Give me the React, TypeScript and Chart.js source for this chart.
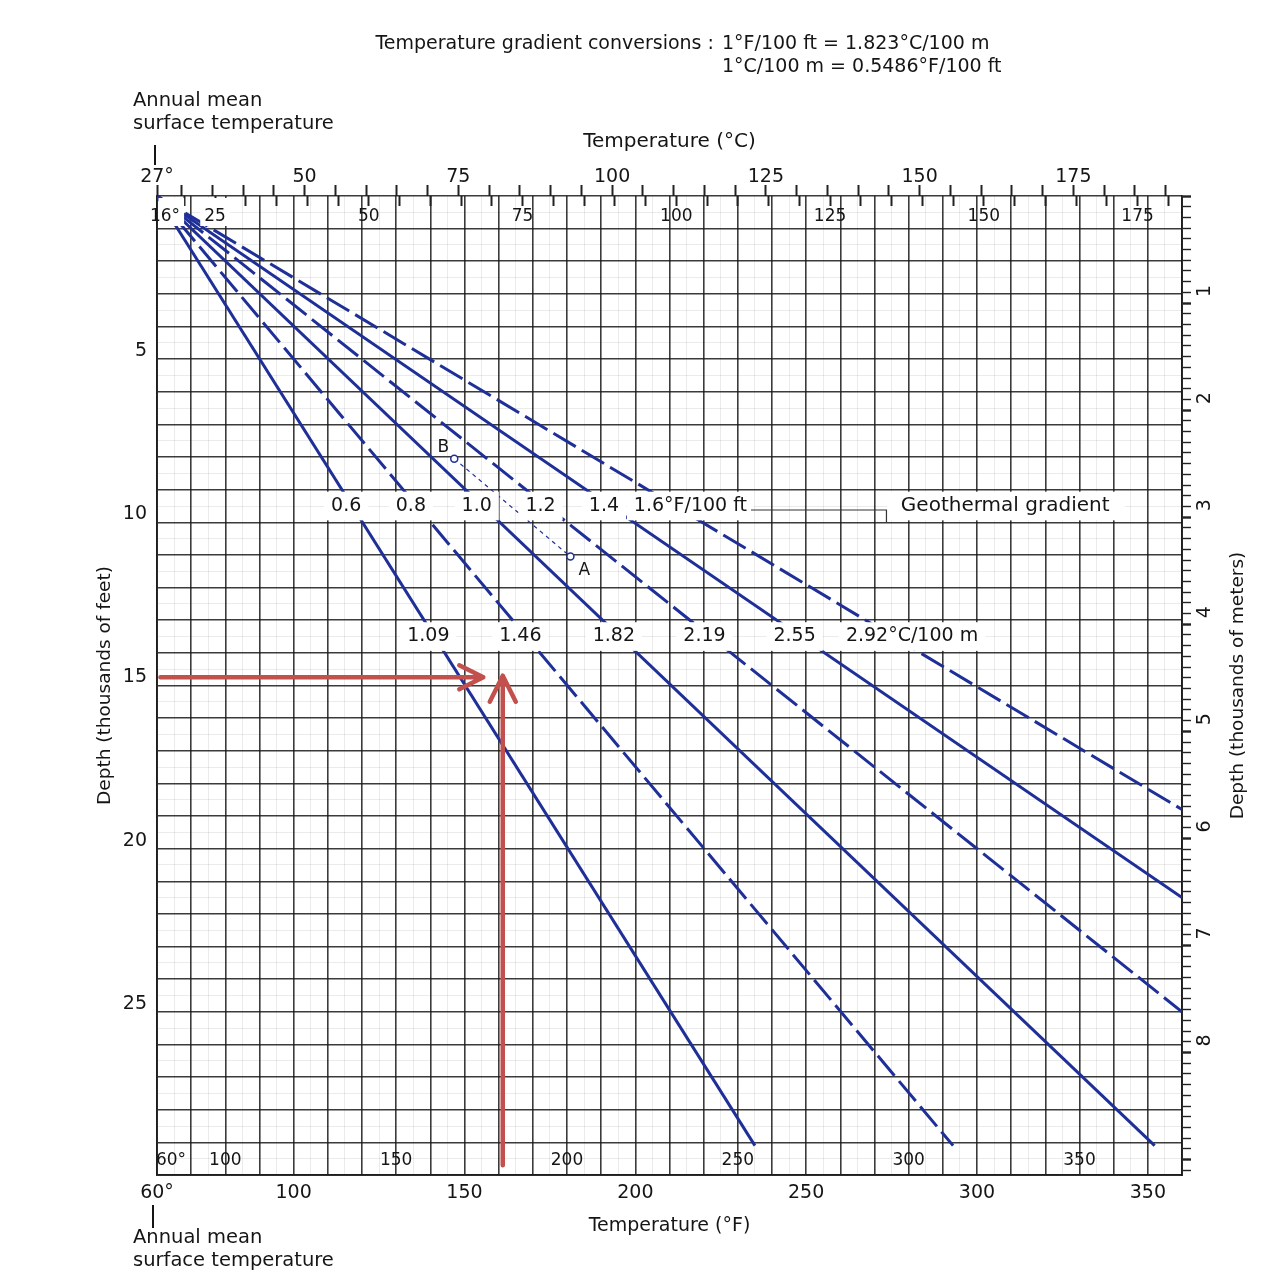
import React, { useEffect, useRef } from 'react';
import { Chart, registerables } from 'chart.js';

Chart.register(...registerables);

const FONT = '"DejaVu Sans", "Liberation Sans", sans-serif';
const BLUE = '#1f2f98';
const GRID_DARK = 'rgba(25,25,25,0.85)';
const GRID_LIGHT = 'rgba(0,0,0,0.08)';
const RED = '#c2504c';
const TEXT = '#151515';

// ---- Geothermal gradient lines (°F/100 ft) ----
const gradientLabelsF = ['0.6', '0.8', '1.0', '1.2', '1.4', '1.6'];
const gradientLabelsC = ['1.09', '1.46', '1.82', '2.19', '2.55', '2.92'];
const surfaceTempF = 60;
const lineEndTempF = [235, 293, 352, 360, 360, 360];
const lineEndDepth = [29.1, 29.1, 29.1, 25.0, 21.5, 18.8];
const lineDashed = [false, true, false, true, false, true];

// ---- Points B and A ----
const pointLabels = ['B', 'A'];
const pointTemps = [147, 181];
const pointDepths = [8.05, 11.05];

// ---- Axis ticks ----
const bottomTickValues = [60, 100, 150, 200, 250, 300, 350];
const bottomTickLabels = ['60°', '100', '150', '200', '250', '300', '350'];
const innerBottomValues = [60, 80, 130, 180, 230, 280, 330];
const innerBottomLabels = ['60°', '100', '150', '200', '250', '300', '350'];
const topOuterValues = [26, 50, 75, 100, 125, 150, 175];
const topOuterLabels = ['27°', '50', '75', '100', '125', '150', '175'];
const topInnerValues = [15.6, 25, 50, 75, 100, 125, 150, 175];
const topInnerLabels = ['16°', '25', '50', '75', '100', '125', '150', '175'];
const depthFtTicks = [5, 10, 15, 20, 25];
const depthMTicks = [1, 2, 3, 4, 5, 6, 7, 8];

// ---- Label rows / annotation positions (data units) ----
const labelRowDepthF = 9.5;
const labelRowDepthC = 13.5;
const geoBoxTemps = [273.5, 343];

// ---- Red reading arrows ----
const arrowDepth = 14.75;
const arrowTempStart = 61;
const arrowTempEnd = 155.5;
const arrowVTemp = 161.2;
const arrowVDepthStart = 29.7;
const arrowVDepthEnd = 14.7;

const range = (a: number, b: number, step: number) => {
  const out: number[] = [];
  const n = Math.round((b - a) / step);
  for (let i = 0; i <= n; i++) out.push(Math.round((a + i * step) * 1000) / 1000);
  return out;
};

const tempGrid = range(60, 360, 5);
const depthGrid = range(0, 30, 0.5);
const kmGrid = range(0, 9.1, 0.1);
const topOuterTicks = [26, ...range(30, 190, 5)];
const topInnerTicks = range(20, 180, 5);

const lineTempAt = (i: number, d: number) =>
  surfaceTempF + (lineEndTempF[i] - surfaceTempF) * (d / lineEndDepth[i]);

const annotPlugin = {
  id: 'annot',
  afterDatasetsDraw(chart: any) {
    const { ctx, chartArea, scales } = chart;
    const x = scales.x, y = scales.y, xTopIn = scales.xTopIn;
    ctx.save();
    ctx.textBaseline = 'middle';
    ctx.fillStyle = TEXT;

    // inner top labels (°C)
    ctx.font = `17px ${FONT}`;
    ctx.textAlign = 'center';
    const ty = chartArea.top + 21;
    topInnerValues.forEach((v, i) => {
      const px = Math.max(xTopIn.getPixelForValue(v), chartArea.left + 8);
      const w = ctx.measureText(topInnerLabels[i]).width;
      if (i < 2) {
        ctx.fillStyle = '#fff';
        const l = Math.max(px - w / 2 - 4, chartArea.left + 1.5);
        ctx.fillRect(l, chartArea.top + 2, px + w / 2 + 4 - l, 28);
      }
      ctx.fillStyle = TEXT;
      ctx.fillText(topInnerLabels[i], px, ty);
    });
    // inner bottom labels (°F)
    const by = chartArea.bottom - 14;
    innerBottomValues.forEach((v, i) => {
      const px = Math.max(x.getPixelForValue(v), chartArea.left + 6);
      ctx.fillText(innerBottomLabels[i], px + (i === 0 ? 8 : 0), by);
    });

    // gradient label rows
    ctx.font = `19px ${FONT}`;
    const rowH = Math.abs(y.getPixelForValue(1) - y.getPixelForValue(0)) - 4;
    const drawRow = (labels: string[], depth: number, suffix: string) => {
      const cy = y.getPixelForValue(depth);
      let endX = 0;
      labels.forEach((lab, i) => {
        const cx = x.getPixelForValue(lineTempAt(i, depth)) - 6;
        const wNum = ctx.measureText(lab).width;
        if (i < labels.length - 1) {
          ctx.fillStyle = '#fff';
          ctx.fillRect(cx - wNum / 2 - 7, cy - rowH / 2, wNum + 14, rowH);
          ctx.fillStyle = TEXT;
          ctx.textAlign = 'center';
          ctx.fillText(lab, cx, cy);
        } else {
          const full = lab + suffix;
          const wFull = ctx.measureText(full).width;
          const sx = cx - wNum / 2 - 20;
          ctx.fillStyle = '#fff';
          ctx.fillRect(sx - 7, cy - rowH / 2, wFull + 14, rowH);
          ctx.fillStyle = TEXT;
          ctx.textAlign = 'left';
          ctx.fillText(full, sx, cy);
          endX = sx + wFull + 4;
        }
      });
      return endX;
    };
    const endF = drawRow(gradientLabelsF, labelRowDepthF, '°F/100 ft');
    drawRow(gradientLabelsC, labelRowDepthC, '°C/100 m');

    // Geothermal gradient box + leader
    const gx0 = x.getPixelForValue(geoBoxTemps[0]);
    const gx1 = x.getPixelForValue(geoBoxTemps[1]);
    const gy0 = y.getPixelForValue(9) + 2;
    const gy1 = y.getPixelForValue(10) - 2;
    ctx.fillStyle = '#fff';
    ctx.fillRect(gx0 + 1, gy0, gx1 - gx0, gy1 - gy0);
    ctx.strokeStyle = '#333';
    ctx.lineWidth = 1.2;
    ctx.beginPath();
    const ly = y.getPixelForValue(labelRowDepthF) + 4;
    ctx.moveTo(endF, ly);
    ctx.lineTo(gx0, ly);
    ctx.lineTo(gx0, gy1 + 2);
    ctx.stroke();
    ctx.fillStyle = TEXT;
    ctx.font = `20px ${FONT}`;
    ctx.textAlign = 'center';
    ctx.fillText('Geothermal gradient', (gx0 + gx1) / 2, y.getPixelForValue(labelRowDepthF));

    // point labels
    ctx.font = `17px ${FONT}`;
    pointLabels.forEach((lab, i) => {
      const px = x.getPixelForValue(pointTemps[i]);
      const py = y.getPixelForValue(pointDepths[i]);
      if (i === 0) ctx.fillText(lab, px - 11, py - 11);
      else ctx.fillText(lab, px + 14, py + 14);
    });
    ctx.restore();
  },
  afterDraw(chart: any) {
    const { ctx, chartArea, scales } = chart;
    const x = scales.x;
    ctx.save();
    ctx.fillStyle = TEXT;
    ctx.textBaseline = 'middle';

    // header text
    ctx.font = `19px ${FONT}`;
    ctx.textAlign = 'right';
    ctx.fillText('Temperature gradient conversions : ', 720, 44);
    ctx.textAlign = 'left';
    ctx.fillText('1°F/100 ft = 1.823°C/100 m', 722, 44);
    ctx.fillText('1°C/100 m = 0.5486°F/100 ft', 722, 67);

    // annual mean surface temperature notes
    const x60 = x.getPixelForValue(60);
    ctx.font = `19.5px ${FONT}`;
    ctx.fillText('Annual mean', x60 - 24, 101);
    ctx.fillText('surface temperature', x60 - 24, 124);
    ctx.fillText('Annual mean', x60 - 24, 1238);
    ctx.fillText('surface temperature', x60 - 24, 1261);
    ctx.strokeStyle = TEXT;
    ctx.lineWidth = 2;
    ctx.beginPath();
    ctx.moveTo(x60 - 2, 145);
    ctx.lineTo(x60 - 2, 165);
    ctx.moveTo(x60 - 4, 1205);
    ctx.lineTo(x60 - 4, 1228);
    ctx.stroke();

    // right axis title (reads bottom to top)
    ctx.save();
    ctx.translate(1238, (chartArea.top + chartArea.bottom) / 2);
    ctx.rotate(-Math.PI / 2);
    ctx.textAlign = 'center';
    ctx.font = `18.5px ${FONT}`;
    ctx.fillText('Depth (thousands of meters)', 0, 0);
    ctx.restore();

    // red reading arrows
    const y = scales.y;
    ctx.strokeStyle = RED;
    ctx.lineWidth = 4.5;
    ctx.lineCap = 'round';
    ctx.lineJoin = 'round';
    const hy = y.getPixelForValue(arrowDepth);
    const hx0 = x.getPixelForValue(arrowTempStart);
    const hx1 = x.getPixelForValue(arrowTempEnd);
    ctx.beginPath();
    ctx.moveTo(hx0, hy);
    ctx.lineTo(hx1, hy);
    ctx.moveTo(hx1 - 24, hy - 12);
    ctx.lineTo(hx1, hy);
    ctx.lineTo(hx1 - 24, hy + 12);
    ctx.stroke();
    const vx = x.getPixelForValue(arrowVTemp);
    const vy0 = y.getPixelForValue(arrowVDepthStart);
    const vy1 = y.getPixelForValue(arrowVDepthEnd);
    ctx.beginPath();
    ctx.moveTo(vx, vy0);
    ctx.lineTo(vx, vy1);
    ctx.moveTo(vx - 13, vy1 + 26);
    ctx.lineTo(vx, vy1);
    ctx.lineTo(vx + 13, vy1 + 26);
    ctx.stroke();
    ctx.restore();
  },
};

const isInt = (v: number) => Math.abs(v - Math.round(v)) < 1e-6;

export default function App() {
  const ref = useRef<HTMLCanvasElement>(null);
  useEffect(() => {
    const datasets: any[] = gradientLabelsF.map((lab, i) => ({
      label: `${lab} °F/100 ft`,
      data: [
        { x: surfaceTempF, y: 0 },
        { x: lineEndTempF[i], y: lineEndDepth[i] },
      ],
      borderColor: BLUE,
      borderWidth: 3,
      borderDash: lineDashed[i] ? [26, 7] : [],
      pointRadius: 0,
      tension: 0,
    }));
    datasets.push({
      label: 'B-A',
      data: pointTemps.map((t, i) => ({ x: t, y: pointDepths[i] })),
      borderColor: BLUE,
      borderWidth: 1.2,
      borderDash: [4, 4],
      pointRadius: 3.5,
      pointBackgroundColor: '#fff',
      pointBorderColor: BLUE,
      pointBorderWidth: 1.5,
    });

    const tickFont = { family: FONT, size: 19 };
    const chart = new Chart(ref.current as HTMLCanvasElement, {
      type: 'line',
      data: { datasets },
      plugins: [annotPlugin],
      options: {
        responsive: false,
        animation: false,
        layout: { padding: 0 },
        plugins: { legend: { display: false }, tooltip: { enabled: false } },
        scales: {
          x: {
            type: 'linear',
            position: 'bottom',
            min: 60,
            max: 360,
            afterBuildTicks: (s: any) => { s.ticks = tempGrid.map((v) => ({ value: v })); },
            afterFit: (s: any) => { s.height = 106; },
            grid: {
              color: (c: any) => (c.tick && c.tick.value % 10 === 0 ? GRID_DARK : GRID_LIGHT),
              lineWidth: (c: any) => (c.tick && c.tick.value % 10 === 0 ? 1.6 : 1),
              drawTicks: false,
            },
            border: { display: true, color: GRID_DARK, width: 2 },
            ticks: {
              autoSkip: false,
              maxRotation: 0,
              padding: 7,
              color: TEXT,
              font: tickFont,
              callback: (v: any) => {
                const i = bottomTickValues.indexOf(Number(v));
                return i >= 0 ? bottomTickLabels[i] : '';
              },
            },
            title: {
              display: true,
              text: 'Temperature (°F)',
              color: TEXT,
              font: { family: FONT, size: 19 },
              padding: { top: 0, bottom: 44 },
            },
          },
          xTop: {
            type: 'linear',
            position: 'top',
            weight: 1,
            min: 26,
            max: 26 + 300 / 1.8,
            afterBuildTicks: (s: any) => { s.ticks = topOuterTicks.map((v) => ({ value: v })); },
            afterFit: (s: any) => { s.height = 196; },
            grid: { drawOnChartArea: false, tickLength: 11, tickColor: '#222', tickWidth: 2 },
            border: { display: false },
            ticks: {
              autoSkip: false,
              maxRotation: 0,
              padding: -3,
              color: TEXT,
              font: tickFont,
              callback: (v: any) => {
                const i = topOuterValues.indexOf(Number(v));
                return i >= 0 ? topOuterLabels[i] : '';
              },
            },
            title: {
              display: true,
              text: 'Temperature (°C)',
              color: TEXT,
              font: { family: FONT, size: 20 },
              padding: { top: 130, bottom: 0 },
            },
          },
          xTopIn: {
            type: 'linear',
            position: 'top',
            weight: 0,
            min: (60 - 32) / 1.8,
            max: (360 - 32) / 1.8,
            afterBuildTicks: (s: any) => { s.ticks = topInnerTicks.map((v) => ({ value: v })); },
            afterFit: (s: any) => { s.height = 0; },
            grid: { drawOnChartArea: false, tickLength: -10, tickColor: '#222', tickWidth: 2 },
            border: { display: false },
            ticks: { display: false },
          },
          y: {
            type: 'linear',
            position: 'left',
            reverse: true,
            min: 0,
            max: 30,
            afterBuildTicks: (s: any) => { s.ticks = depthGrid.map((v) => ({ value: v })); },
            afterFit: (s: any) => { s.width = 157; },
            grid: {
              color: (c: any) => (c.tick && isInt(c.tick.value) ? GRID_DARK : GRID_LIGHT),
              lineWidth: (c: any) => (c.tick && isInt(c.tick.value) ? 1.6 : 1),
              drawTicks: false,
            },
            border: { display: true, color: GRID_DARK, width: 2 },
            ticks: {
              autoSkip: false,
              padding: 10,
              labelOffset: -8,
              color: TEXT,
              font: tickFont,
              callback: (v: any) => (depthFtTicks.indexOf(Number(v)) >= 0 ? String(v) : ''),
            },
            title: {
              display: true,
              text: 'Depth (thousands of feet)',
              color: TEXT,
              font: { family: FONT, size: 18.5 },
              padding: { top: 94, bottom: 0 },
            },
          },
          y2: {
            type: 'linear',
            position: 'right',
            reverse: true,
            min: 0,
            max: 30 * 0.3048,
            afterBuildTicks: (s: any) => { s.ticks = kmGrid.map((v) => ({ value: v })); },
            afterFit: (s: any) => { s.width = 100; },
            grid: {
              drawOnChartArea: false,
              tickLength: 9,
              tickColor: '#222',
              tickWidth: (c: any) => (c.tick && isInt(c.tick.value) ? 2.4 : 1.4),
            },
            border: { display: true, color: GRID_DARK, width: 2 },
            ticks: {
              autoSkip: false,
              minRotation: 90,
              maxRotation: 90,
              padding: 14,
              labelOffset: -6,
              color: TEXT,
              font: tickFont,
              callback: (v: any) => {
                const n = Number(v);
                return isInt(n) && depthMTicks.indexOf(Math.round(n)) >= 0 ? String(Math.round(n)) : '';
              },
            },
            title: { display: false },
          },
        },
      } as any,
    });
    return () => chart.destroy();
  }, []);

  return (
    <div style={{ position: 'fixed', left: 0, top: 0, width: 1282, height: 1281, background: '#fff' }}>
      <canvas ref={ref} width={1282} height={1281} style={{ display: 'block' }} />
    </div>
  );
}
